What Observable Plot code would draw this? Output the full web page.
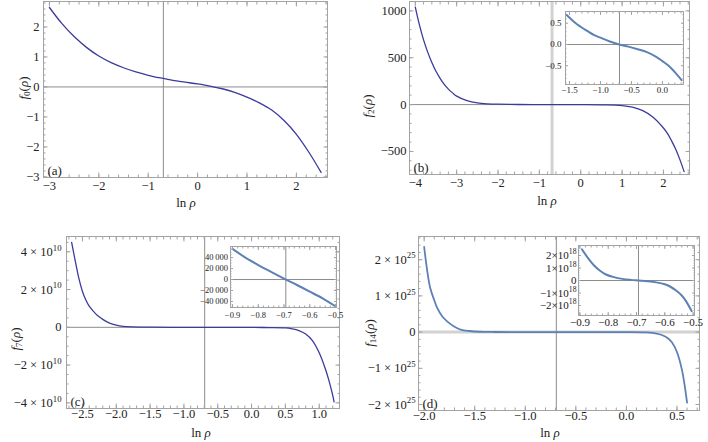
<!DOCTYPE html>
<html>
<head>
<meta charset="utf-8">
<script src="https://cdn.jsdelivr.net/npm/d3@7"></script>
<script src="https://cdn.jsdelivr.net/npm/@observablehq/plot@0.6"></script>
<style>
  html, body { margin: 0; padding: 0; background: #fff; }
  #chart { position: relative; width: 708px; height: 442px; overflow: hidden; background: #fff;
           font-family: "Liberation Serif", "Times New Roman", serif; color: #222; }
  #chart svg { position: absolute; }
  .ttl { position: absolute; white-space: nowrap; font-size: 13px; line-height: 1; }
  .ttl sub { font-size: 70%; line-height: 0; vertical-align: -0.3em; }
  .rot { transform: translate(-50%, -50%) rotate(-90deg); }
  .hor { transform: translate(-50%, -50%); }
</style>
</head>
<body>
<div id="chart"></div>
<script>
// ---------- data ----------
const refX = -0.693;   // vertical reference line (ln 1/2)

// (a) f0
const aX = [-3,-2.75,-2.5,-2.25,-2,-1.75,-1.5,-1.25,-1,-0.75,-0.5,-0.25,0,0.25,0.5,0.75,1,1.25,1.5,1.75,2,2.25,2.5];
const aY = [2.65,2.12,1.68,1.32,1.03,0.81,0.64,0.5,0.39,0.3,0.22,0.16,0.1,0.03,-0.06,-0.18,-0.34,-0.53,-0.77,-1.12,-1.58,-2.17,-2.85];

// (b) f2 main
const bX = [-4,-3.9,-3.8,-3.7,-3.6,-3.5,-3.4,-3.3,-3.2,-3.1,-3,-2.75,-2.5,-2.25,-2,-1.5,-1,-0.5,0,0.5,1,1.25,1.5,1.75,2,2.1,2.2,2.3,2.4,2.5];
const bY = [1040,850,690,560,450,355,280,215,165,125,90,42,18,8,4,1,0.3,0,-0.5,-2,-10,-28,-65,-135,-250,-310,-390,-480,-590,-715];
// (b) inset
const bInX = [-1.55,-1.4,-1.25,-1.1,-1.0,-0.85,-0.7,-0.55,-0.4,-0.25,-0.1,0,0.1,0.2,0.31];
const bInY = [0.7,0.5,0.35,0.22,0.16,0.07,0.0,-0.05,-0.11,-0.18,-0.29,-0.39,-0.5,-0.65,-0.84];

// (c) f7 main (units of 1e10)
const cX = [-2.66,-2.6,-2.55,-2.5,-2.45,-2.4,-2.3,-2.25,-2.2,-2.1,-2,-1.9,-1.75,-1.5,-1,-0.5,0,0.25,0.5,0.6,0.7,0.8,0.9,1,1.1,1.15,1.2,1.22];
const cY = [4.5,3.4,2.55,1.9,1.45,1.12,0.7,0.55,0.42,0.22,0.11,0.05,0.02,0.005,0,0,-0.005,-0.012,-0.03,-0.08,-0.17,-0.35,-0.7,-1.35,-2.3,-2.9,-3.6,-3.95];
// (c) inset
const cInX = [-0.9,-0.85,-0.8,-0.75,-0.7,-0.65,-0.6,-0.55,-0.5];
const cInY = [56000,40000,26500,14000,1500,-10000,-22000,-34500,-49000];

// (d) f14 main (units of 1e25)
const dX = [-2.0,-1.97,-1.94,-1.9,-1.87,-1.82,-1.77,-1.7,-1.64,-1.55,-1.45,-1.3,-1,-0.5,0,0.2,0.3,0.35,0.4,0.45,0.5,0.55,0.575,0.6];
const dY = [2.35,1.7,1.22,0.88,0.66,0.43,0.29,0.15,0.07,0.03,0.01,0.003,0,0,0,-0.01,-0.04,-0.08,-0.15,-0.28,-0.55,-1.05,-1.45,-1.95];
// (d) inset (units of 1e18)
const dInX = [-0.893,-0.87,-0.85,-0.83,-0.81,-0.78,-0.75,-0.72,-0.693,-0.66,-0.63,-0.6,-0.58,-0.56,-0.54,-0.525,-0.505];
const dInY = [2.5,1.75,1.2,0.8,0.5,0.27,0.13,0.05,0,-0.06,-0.15,-0.3,-0.5,-0.8,-1.2,-1.65,-2.45];

// tick values
const aXTicks = [-3,-2,-1,0,1,2];
const aYTicks = [-3,-2,-1,0,1,2];
const bXTicks = [-4,-3,-2,-1,0,1,2];
const bYTicks = [-500,0,500,1000];
const bInXTicks = [-1.5,-1.0,-0.5,0.0];
const bInYTicks = [-0.5,0.0,0.5];
const cXTicks = [-2.5,-2.0,-1.5,-1.0,-0.5,0.0,0.5,1.0];
const cYTicks = [-4,-2,0,2,4];
const cInXTicks = [-0.9,-0.8,-0.7,-0.6,-0.5];
const cInYTicks = [-40000,-20000,0,20000,40000];
const dXTicks = [-2.0,-1.5,-1.0,-0.5,0.0,0.5];
const dYTicks = [-2,-1,0,1,2];
const dInXTicks = [-0.9,-0.8,-0.7,-0.6,-0.5];
const dInYTicks = [-2,-1,0,1,2];

// ---------- helpers ----------
const FONT = "'Liberation Serif', 'Times New Roman', serif";
const MINUS = "\u2212";
const sgn = (s, v) => (v < 0 ? MINUS : "") + s;
const fmtInt = v => sgn(String(Math.abs(v)), v);
const fmt1 = v => sgn(Math.abs(v).toFixed(1), v);
const fmtThou = v => { const a = Math.abs(v); const s = a >= 1000 ? Math.floor(a/1000) + "\u2009" + String(a%1000).padStart(3,"0") : String(a); return sgn(s, v); };
const fmtPow = (exp, sp) => v => v === 0 ? "0" : sgn(Math.abs(v) + sp + "×" + sp + "10^" + exp, v);

function minorTicks(domain, step) {
  const lo = Math.ceil(domain[0] / step - 1e-9), hi = Math.floor(domain[1] / step + 1e-9);
  return d3.range(lo, hi + 1).map(i => +(i * step).toFixed(10));
}

// turn "a^b" text into a base + raised exponent
function superscripts(svg, fs) {
  svg.querySelectorAll("text").forEach(t => {
    const s = t.textContent;
    if (!s.includes("^")) return;
    const [base, exp] = s.split("^");
    while (t.firstChild) t.removeChild(t.firstChild);
    t.appendChild(document.createTextNode(base));
    const sup = document.createElementNS("http://www.w3.org/2000/svg", "tspan");
    sup.setAttribute("dy", (-fs * 0.42).toFixed(2));
    sup.setAttribute("font-size", (fs * 0.7).toFixed(2));
    sup.textContent = exp;
    t.appendChild(sup);
  });
}

const chart = document.getElementById("chart");

function panel(c) {
  const [x0, y0, w, h] = c.box;
  const [fl, ft, fr, fb] = c.frame;
  const data = c.xs.map((x, i) => ({x, y: c.ys[i]}));
  const fc = c.frameColor || "#a3a3a3";
  const mx = minorTicks(c.xDomain, c.xMinor), my = minorTicks(c.yDomain, c.yMinor);
  const ticks = [];
  for (const [t, len] of [[c.xTicks, c.major], [mx, c.minor]]) {
    ticks.push(Plot.axisX(t, {anchor: "bottom", tickSize: -len, fill: "none", stroke: fc, label: null}));
    ticks.push(Plot.axisX(t, {anchor: "top", tickSize: -len, fill: "none", stroke: fc, label: null}));
  }
  for (const [t, len] of [[c.yTicks, c.major], [my, c.minor]]) {
    ticks.push(Plot.axisY(t, {anchor: "left", tickSize: -len, fill: "none", stroke: fc, label: null}));
    ticks.push(Plot.axisY(t, {anchor: "right", tickSize: -len, fill: "none", stroke: fc, label: null}));
  }
  const svg = Plot.plot({
    width: w, height: h,
    marginLeft: fl - x0, marginRight: x0 + w - fr, marginTop: ft - y0, marginBottom: y0 + h - fb,
    x: {domain: c.xDomain}, y: {domain: c.yDomain},
    style: {fontFamily: FONT, background: "transparent", overflow: "visible"},
    marks: [
      Plot.ruleY([0], {stroke: c.hColor || "#8c8c8c", strokeWidth: c.hWidth || 1}),
      Plot.ruleX([refX], {stroke: c.vColor || "#8c8c8c", strokeWidth: c.vWidth || 1}),
      Plot.line(data, {x: "x", y: "y", stroke: c.color, strokeWidth: c.sw, curve: "catmull-rom"}),
      ...ticks,
      Plot.frame({stroke: fc}),
      Plot.axisX(c.xTicks, {anchor: "bottom", tickSize: 0, tickPadding: c.xPad, tickFormat: c.xFmt, fontSize: c.fs, fill: "#222", label: null}),
      Plot.axisY(c.yTicks, {anchor: "left", tickSize: 0, tickPadding: c.yPad, tickFormat: c.yFmt, fontSize: c.fs, fill: "#222", label: null}),
      c.tag ? Plot.text([c.tag], {text: d => d, frameAnchor: "bottom-left", dx: 4, dy: -3, textAnchor: "start", lineAnchor: "bottom", fontSize: 13, fill: "#222"}) : null
    ]
  });
  superscripts(svg, c.fs);
  svg.style.left = x0 + "px";
  svg.style.top = y0 + "px";
  chart.appendChild(svg);
}

function title(html, cx, cy, rotate) {
  const d = document.createElement("div");
  d.className = "ttl " + (rotate ? "rot" : "hor");
  d.style.left = cx + "px";
  d.style.top = cy + "px";
  d.innerHTML = html;
  chart.appendChild(d);
}

const MAIN = "#3b3b9c", LIGHT = "#5e81b5";

// (a)
panel({box: [0, 0, 354, 200], frame: [43, 1, 327, 177], xDomain: [-3.12, 2.63], yDomain: [-3.02, 2.85],
  xs: aX, ys: aY, color: MAIN, sw: 1.3, xTicks: aXTicks, yTicks: aYTicks, xMinor: 0.2, yMinor: 0.2,
  xFmt: fmtInt, yFmt: fmtInt, fs: 12.5, xPad: 4, yPad: 4, major: 4.5, minor: 2.5, tag: "(a)"});
// (b)
panel({box: [354, 0, 354, 200], frame: [409, 1, 689, 174], xDomain: [-4.14, 2.63], yDomain: [-746, 1100],
  xs: bX, ys: bY, color: MAIN, sw: 1.3, xTicks: bXTicks, yTicks: bYTicks, xMinor: 0.2, yMinor: 100,
  xFmt: fmtInt, yFmt: fmtInt, fs: 12.5, xPad: 4, yPad: 3, major: 4.5, minor: 2.5, tag: "(b)",
  vColor: "#d2d2d2", vWidth: 3});
// (b) inset
panel({box: [530, 5, 160, 105], frame: [565, 11, 683, 84], xDomain: [-1.565, 0.34], yDomain: [-0.94, 0.775],
  xs: bInX, ys: bInY, color: LIGHT, sw: 2, xTicks: bInXTicks, yTicks: bInYTicks, xMinor: 0.1, yMinor: 0.1,
  xFmt: fmt1, yFmt: fmt1, fs: 9, xPad: 2, yPad: 4, major: 3, minor: 1.5});
// (c)
panel({box: [0, 221, 354, 200], frame: [66, 236, 339, 408], xDomain: [-2.736, 1.30], yDomain: [-4.3, 4.81],
  xs: cX, ys: cY, color: MAIN, sw: 1.3, xTicks: cXTicks, yTicks: cYTicks, xMinor: 0.1, yMinor: 0.5,
  xFmt: fmt1, yFmt: fmtPow("10", " "), fs: 12.5, xPad: 1, yPad: 5, major: 4.5, minor: 2.5, tag: "(c)"});
// (c) inset
panel({box: [195, 240, 150, 90], frame: [230, 246, 336, 307], xDomain: [-0.908, -0.496], yDomain: [-51100, 60300],
  xs: cInX, ys: cInY, color: LIGHT, sw: 2, xTicks: cInXTicks, yTicks: cInYTicks, xMinor: 0.02, yMinor: 5000,
  xFmt: fmt1, yFmt: fmtThou, fs: 8.5, xPad: 4, yPad: 2.5, major: 3, minor: 1.5});
// (d)
panel({box: [354, 221, 354, 200], frame: [418, 236, 699, 410], xDomain: [-2.056, 0.723], yDomain: [-2.165, 2.64],
  xs: dX, ys: dY, color: LIGHT, sw: 1.8, xTicks: dXTicks, yTicks: dYTicks, xMinor: 0.1, yMinor: 0.2,
  xFmt: fmt1, yFmt: fmtPow("25", " "), fs: 12.5, xPad: 1, yPad: 3, major: 4.5, minor: 2.5, tag: "(d)",
  hColor: "#d2d2d2", hWidth: 3});
// (d) inset
panel({box: [530, 240, 170, 100], frame: [578, 245, 694, 315], xDomain: [-0.905, -0.495], yDomain: [-2.8, 2.8],
  xs: dInX, ys: dInY, color: LIGHT, sw: 2, xTicks: dInXTicks, yTicks: dInYTicks, xMinor: 0.02, yMinor: 0.2,
  xFmt: fmt1, yFmt: fmtPow("18", ""), fs: 11, xPad: 2.5, yPad: 2, major: 3, minor: 1.5});

// axis titles
title("<i>f</i><sub>0</sub>(<i>ρ</i>)", 23, 88, true);
title("ln <i>ρ</i>", 186, 202, false);
title("<i>f</i><sub>2</sub>(<i>ρ</i>)", 367, 106, true);
title("ln <i>ρ</i>", 547, 200, false);
title("<i>f</i><sub>7</sub>(<i>ρ</i>)", 15, 339, true);
title("ln <i>ρ</i>", 201, 432, false);
title("<i>f</i><sub>14</sub>(<i>ρ</i>)", 369, 333, true);
title("ln <i>ρ</i>", 550, 432, false);
</script>
</body>
</html>
